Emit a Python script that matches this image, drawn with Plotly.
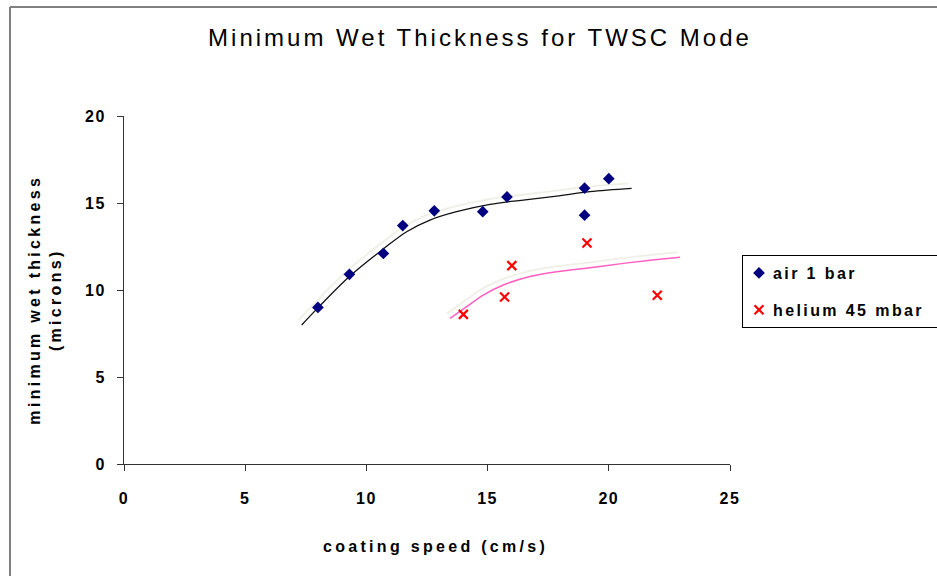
import plotly.graph_objects as go

# ---- data ----
air_speed = [8.0, 9.3, 10.7, 11.5, 12.8, 14.8, 15.8, 19.0, 19.0, 20.0]
air_thick = [9.0, 10.9, 12.1, 13.7, 14.55, 14.5, 15.35, 15.85, 14.3, 16.4]

he_speed = [14.0, 15.7, 16.0, 19.1, 22.0]
he_thick = [8.6, 9.6, 11.4, 12.7, 9.7]

# trend curves
air_fit_x = [7.33, 8.02, 9.32, 10.70, 11.66, 12.62, 13.72, 15.10, 16.47, 17.85, 19.22, 20.94]
air_fit_y = [7.99, 9.00, 10.80, 12.36, 13.35, 14.02, 14.50, 14.92, 15.17, 15.40, 15.65, 15.84]

he_fit_x = [13.45, 14.14, 14.82, 15.65, 16.75, 17.85, 19.22, 20.60, 21.80, 22.94]
he_fit_y = [8.37, 9.04, 9.71, 10.29, 10.77, 11.05, 11.28, 11.53, 11.72, 11.88]

x_ticks = [0, 5, 10, 15, 20, 25]
y_ticks = [0, 5, 10, 15, 20]

# ---- layout geometry (pixels) ----
W, H = 937, 576
L, R, T, B = 124, 207, 116, 112
PW, PH = W - L - R, H - T - B
XR, YR = [0, 25], [0, 20]
px_per_x = PW / (XR[1] - XR[0])
px_per_y = PH / (YR[1] - YR[0])
SH_DX, SH_DY = 3, 5  # shadow offset (px) left / up

def px2paper_x(px):
    return (px - L) / PW

def py2paper_y(py):
    return (H - B - py) / PH

fig = go.Figure()

# shadows of trend lines (on the base axes x/y, whose range is shifted by a few pixels)
fig.add_trace(go.Scatter(x=air_fit_x, y=air_fit_y, mode="lines", line=dict(color="#f1f0e8", width=2, shape="spline"),
                         showlegend=False, hoverinfo="skip"))
fig.add_trace(go.Scatter(x=he_fit_x, y=he_fit_y, mode="lines", line=dict(color="#f1f0e8", width=2, shape="spline"),
                         showlegend=False, hoverinfo="skip"))

# trend lines (on the visible x2/y2 axes, drawn above the shadows)
fig.add_trace(go.Scatter(x=air_fit_x, y=air_fit_y, mode="lines", line=dict(color="#111111", width=1.3, shape="spline"),
                         xaxis="x2", yaxis="y2", showlegend=False, hoverinfo="skip"))
fig.add_trace(go.Scatter(x=he_fit_x, y=he_fit_y, mode="lines", line=dict(color="#ff5fc0", width=1.5, shape="spline"),
                         xaxis="x2", yaxis="y2", showlegend=False, hoverinfo="skip"))

# data markers
fig.add_trace(go.Scatter(x=air_speed, y=air_thick, mode="markers", name="air 1 bar", legendgroup="a",
                         xaxis="x2", yaxis="y2",
                         marker=dict(symbol="diamond", size=9, color="#000080", line=dict(width=0))))
fig.add_trace(go.Scatter(x=he_speed, y=he_thick, mode="markers", name="helium 45 mbar", legendgroup="b",
                         xaxis="x2", yaxis="y2",
                         marker=dict(symbol="x-thin", size=9, color="#ff0000", line=dict(width=2.2, color="#ff0000"))))

axis_font = dict(family="Liberation Sans, Arial, sans-serif", size=16, color="#000000", weight="bold")

fig.update_layout(
    width=W, height=H,
    margin=dict(l=L, r=R, t=T, b=B, autoexpand=False),
    paper_bgcolor="white", plot_bgcolor="white",
    title=dict(text="Minimum Wet Thickness for TWSC Mode", xref="paper", x=px2paper_x(480), xanchor="center",
               yref="container", y=1 - 38 / H, yanchor="middle",
               font=dict(family="Liberation Sans Narrow, Liberation Sans, Arial, sans-serif", size=24, color="#000000")),
    xaxis=dict(range=[XR[0] + SH_DX / px_per_x, XR[1] + SH_DX / px_per_x], visible=False, fixedrange=True),
    yaxis=dict(range=[YR[0] - SH_DY / px_per_y, YR[1] - SH_DY / px_per_y], visible=False, fixedrange=True),
    xaxis2=dict(range=XR, tickvals=x_ticks, showgrid=False, zeroline=False, showline=True, linecolor="#333333",
                linewidth=1, ticks="outside", ticklen=6, tickcolor="#333333", tickfont=axis_font,
                ticklabelstandoff=14, fixedrange=True, overlaying="x", anchor="y2"),
    yaxis2=dict(range=YR, tickvals=y_ticks, showgrid=False, zeroline=False, showline=True, linecolor="#333333",
                linewidth=1, ticks="outside", ticklen=6, tickcolor="#333333", tickfont=axis_font,
                ticklabelstandoff=8, fixedrange=True, overlaying="y", anchor="x2", side="left"),
    legend=dict(x=px2paper_x(742), y=py2paper_y(255), xanchor="left", yanchor="top",
                bordercolor="#000000", borderwidth=1, bgcolor="white",
                font=dict(family="Liberation Sans, Arial, sans-serif", size=16, color="#000000", weight="bold"),
                traceorder="grouped", tracegroupgap=13, itemwidth=30),
    showlegend=True,
)

# axis titles
fig.add_annotation(text="coating speed (cm/s)", xref="paper", yref="paper", x=px2paper_x(435), y=py2paper_y(546),
                   showarrow=False, xanchor="center", yanchor="middle", font=axis_font)
fig.add_annotation(text="minimum wet thickness<br>(microns)", xref="paper", yref="paper",
                   x=px2paper_x(45), y=py2paper_y(300), textangle=-90,
                   showarrow=False, xanchor="center", yanchor="middle", font=axis_font)

# outer chart border (top and left visible)
fig.add_shape(type="line", xref="paper", yref="paper", x0=px2paper_x(10), x1=px2paper_x(W + 20),
              y0=py2paper_y(7), y1=py2paper_y(7), line=dict(color="#808080", width=2))
fig.add_shape(type="line", xref="paper", yref="paper", x0=px2paper_x(10), x1=px2paper_x(10),
              y0=py2paper_y(7), y1=py2paper_y(H + 20), line=dict(color="#808080", width=2))

post = """
document.body.style.margin='0';
document.body.style.padding='0';
var gd = document.getElementById('{plot_id}');
function spacing(){
  gd.querySelectorAll('.gtitle').forEach(function(e){ e.style.letterSpacing='3px'; });
  gd.querySelectorAll('.xtick text, .ytick text, .x2tick text, .y2tick text').forEach(function(e){ e.style.letterSpacing='1.5px'; });
  gd.querySelectorAll('.legendtext').forEach(function(e){ e.style.letterSpacing='2.4px'; e.setAttribute('x', '30'); });
  gd.querySelectorAll('.legendpoints').forEach(function(e){ e.setAttribute('transform', 'translate(-4,0)'); });
  gd.querySelectorAll('.annotation-text').forEach(function(e){ e.style.letterSpacing='3.3px'; });
  gd.querySelectorAll('.legend rect.bg').forEach(function(e){ e.setAttribute('width', '260'); });
  gd.querySelectorAll('clipPath[id^="legend"] rect').forEach(function(e){ e.setAttribute('width', '260'); });
}
spacing();
gd.on('plotly_afterplot', spacing);
"""

fig.write_html("out.html", post_script=post, config={"displayModeBar": False})
